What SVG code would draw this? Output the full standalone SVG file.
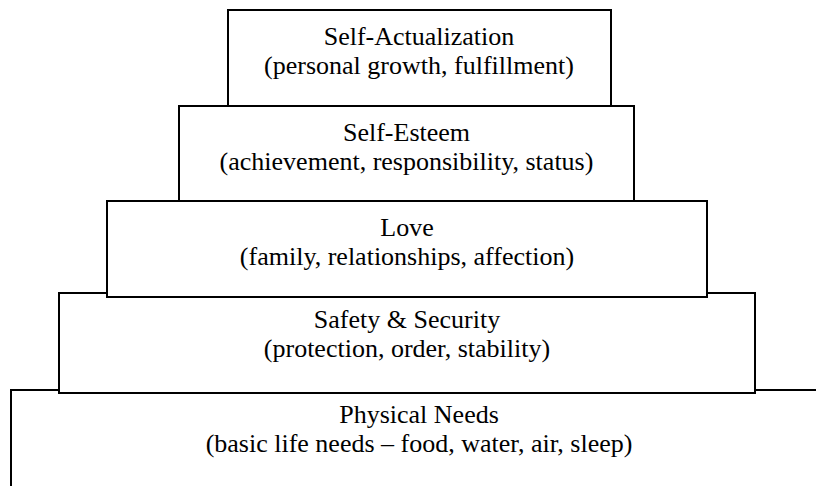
<svg xmlns="http://www.w3.org/2000/svg" width="816" height="486" viewBox="0 0 816 486">
<style>
.box{fill:#fff;stroke:#000;stroke-width:2}
.t{font-family:"Liberation Serif","Times New Roman",serif;font-size:26px;fill:#000;text-anchor:middle}
</style>
<rect width="816" height="486" fill="#fff"/>
<g id="physical">
<rect class="box" x="11" y="390" width="830" height="120"/>
<text class="t" x="419" y="423">Physical Needs</text>
<text class="t" x="419" y="452">(basic life needs – food, water, air, sleep)</text>
</g>
<g id="safety">
<rect class="box" x="59" y="293" width="696" height="100"/>
<text class="t" x="407" y="328">Safety &amp; Security</text>
<text class="t" x="407" y="357">(protection, order, stability)</text>
</g>
<g id="love">
<rect class="box" x="107" y="201" width="600" height="96"/>
<text class="t" x="407" y="236">Love</text>
<text class="t" x="407" y="265">(family, relationships, affection)</text>
</g>
<g id="esteem">
<rect class="box" x="179" y="106" width="455" height="95"/>
<text class="t" x="406.5" y="141">Self-Esteem</text>
<text class="t" x="406.5" y="170">(achievement, responsibility, status)</text>
</g>
<g id="actualization">
<rect class="box" x="228" y="10" width="383" height="96"/>
<text class="t" x="419" y="45">Self-Actualization</text>
<text class="t" x="419" y="74">(personal growth, fulfillment)</text>
</g>
<g id="connectors"/>
</svg>
